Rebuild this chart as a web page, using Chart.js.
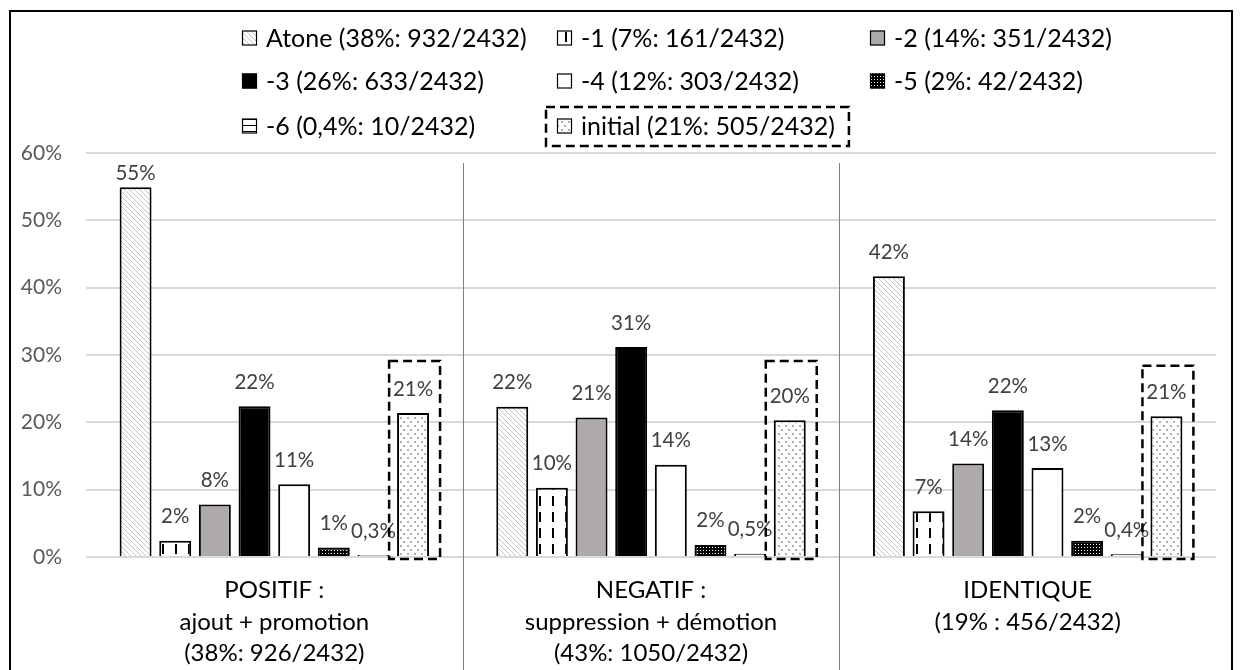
<!DOCTYPE html>
<html><head><meta charset="utf-8">
<script src="https://cdn.jsdelivr.net/npm/chart.js@4.4.1/dist/chart.umd.min.js"></script>
<style>html,body{margin:0;padding:0;background:#fff;}#wrap{position:relative;width:1242px;height:670px;}</style>
</head><body><div id="wrap"><canvas id="c" width="1242" height="670"></canvas></div>
<script>
// ---- data ----
const categories = [
  ["POSITIF :", "ajout + promotion", "(38%: 926/2432)"],
  ["NEGATIF :", "suppression + démotion", "(43%: 1050/2432)"],
  ["IDENTIQUE", "(19% : 456/2432)"]
];
const seriesNames = [
  "Atone (38%: 932/2432)", "-1 (7%: 161/2432)", "-2 (14%: 351/2432)",
  "-3 (26%: 633/2432)", "-4 (12%: 303/2432)", "-5 (2%: 42/2432)",
  "-6 (0,4%: 10/2432)", "initial (21%: 505/2432)"
];
const atone   = [54.9, 22.3, 41.7];
const minus1  = [2.4, 10.3, 6.8];
const minus2  = [7.8, 20.7, 13.9];
const minus3  = [22.4, 31.2, 21.8];
const minus4  = [10.8, 13.7, 13.2];
const minus5  = [1.4, 1.8, 2.4];
const minus6  = [0.3, 0.5, 0.4];
const initial = [21.4, 20.3, 20.9];
const initialFrameTop = [29.1, 29.1, 28.4];
const yTicks = [0, 10, 20, 30, 40, 50, 60];

// ---- patterns ----
function tile(w, h, draw) {
  const c = document.createElement('canvas'); c.width = w; c.height = h;
  const g = c.getContext('2d'); draw(g, w, h);
  return document.getElementById('c').getContext('2d').createPattern(c, 'repeat');
}
const pAtone = tile(5, 5, (g, w, h) => { g.fillStyle = '#fff'; g.fillRect(0,0,w,h); g.fillStyle = '#c4c4c4'; for (let i=0;i<5;i++) g.fillRect(i,i,1,1); });
const pMinus1 = tile(13, 16, (g, w, h) => { g.fillStyle = '#fff'; g.fillRect(0,0,w,h); g.fillStyle = '#000'; g.fillRect(6,0,2,10); });
const pMinus5 = tile(3, 3, (g, w, h) => { g.fillStyle = '#000'; g.fillRect(0,0,w,h); g.fillStyle = '#fff'; g.fillRect(1,1,1,1); });
const pMinus6 = tile(6, 6, (g, w, h) => { g.fillStyle = '#fff'; g.fillRect(0,0,w,h); g.fillStyle = '#000'; g.fillRect(0,5,w,1); });
const pInitial = tile(7, 8, (g, w, h) => { g.fillStyle = '#fff'; g.fillRect(0,0,w,h); g.fillStyle = '#b0b0b0'; g.fillRect(1,1,2,2); g.fillRect(4,5,2,2); });

const seriesValues = [atone, minus1, minus2, minus3, minus4, minus5, minus6, initial];
const fills = [pAtone, pMinus1, '#aeaaaa', '#000000', '#ffffff', pMinus5, pMinus6, pInitial];

const FONT = 'Lato, "Open Sans", sans-serif';

function fmt(v) {
  if (v < 1) return v.toFixed(1).replace('.', ',') + '%';
  return Math.round(v) + '%';
}

const decorPlugin = {
  id: 'decor',
  beforeDraw(chart) {
    const ctx = chart.ctx;
    ctx.save();
    ctx.fillStyle = '#fff'; ctx.fillRect(0, 0, chart.width, chart.height);
    ctx.restore();
  },
  afterDraw(chart) {
    const ctx = chart.ctx, ca = chart.chartArea, x = chart.scales.x, y = chart.scales.y;
    ctx.save();
    // outer border
    ctx.strokeStyle = '#000'; ctx.lineWidth = 2;
    ctx.strokeRect(10, 11, 1222, 700);
    // separators
    ctx.strokeStyle = '#808080'; ctx.lineWidth = 1;
    for (let i = 0; i < categories.length - 1; i++) {
      const px = Math.round(x.getPixelForValue(i + 0.5)) + 0.5;
      ctx.beginPath(); ctx.moveTo(px, ca.top + 10); ctx.lineTo(px, chart.height); ctx.stroke();
    }
    // data labels
    ctx.font = '20.5px ' + FONT; ctx.fillStyle = '#404040';
    ctx.textAlign = 'center'; ctx.textBaseline = 'middle';
    chart.data.datasets.forEach((ds, di) => {
      const meta = chart.getDatasetMeta(di);
      meta.data.forEach((bar, i) => {
        const ly = Math.max(bar.y - 24, ca.top + 20);
        ctx.fillText(fmt(ds.data[i]), bar.x, ly);
      });
    });
    // dashed frames around "initial" bars
    ctx.strokeStyle = '#000'; ctx.lineWidth = 2.5; ctx.setLineDash([9, 5]);
    const im = chart.getDatasetMeta(7);
    im.data.forEach((bar, i) => {
      const l = bar.x - bar.width / 2 - 8, r = bar.x + bar.width / 2 + 11;
      const t = y.getPixelForValue(initialFrameTop[i]), b = y.getPixelForValue(0) + 2;
      ctx.strokeRect(l, t, r - l, b - t);
    });
    ctx.setLineDash([]);
    // legend
    const colX = [242, 557, 870], rowY = [38, 81, 126];
    ctx.font = '25px ' + FONT; ctx.textAlign = 'left'; ctx.textBaseline = 'middle';
    chart.data.datasets.forEach((ds, di) => {
      const cx = colX[di % 3], cy = rowY[Math.floor(di / 3)];
      ctx.fillStyle = ds.backgroundColor; ctx.fillRect(cx, cy - 7.5, 15, 15);
      ctx.strokeStyle = '#000'; ctx.lineWidth = 1.2; ctx.strokeRect(cx + 0.5, cy - 7, 14, 14);
      ctx.fillStyle = '#000'; ctx.fillText(ds.label, cx + 24, cy + 1);
      if (di === 7) {
        const tw = ctx.measureText(ds.label).width;
        ctx.lineWidth = 2.5; ctx.setLineDash([9, 5]);
        ctx.strokeRect(cx - 11, cy - 19, (cx + 24 + tw + 14) - (cx - 11), 39);
        ctx.setLineDash([]);
      }
    });
    ctx.restore();
  }
};

new Chart(document.getElementById('c'), {
  type: 'bar',
  data: {
    labels: categories,
    datasets: seriesNames.map((n, i) => ({
      label: n, data: seriesValues[i], backgroundColor: fills[i],
      borderColor: '#000', borderWidth: 2,
      categoryPercentage: 0.842, barPercentage: 0.806
    }))
  },
  options: {
    responsive: false, animation: false, devicePixelRatio: 1,
    layout: { padding: { left: 0, right: 26, top: 153, bottom: 0 } },
    plugins: { legend: { display: false }, tooltip: { enabled: false } },
    scales: {
      x: {
        grid: { display: false }, border: { display: false },
        ticks: { color: '#000', font: { family: FONT, size: 24, lineHeight: 1.3 }, padding: 10, maxRotation: 0, autoSkip: false },
        afterFit(s) { s.height = 113; }
      },
      y: {
        min: 0, max: 60,
        afterBuildTicks(s) { s.ticks = yTicks.map(v => ({ value: v })); },
        grid: { color: '#d9d9d9', lineWidth: 2, drawTicks: false },
        border: { display: false },
        ticks: { color: '#595959', font: { family: FONT, size: 21 }, padding: 24, callback: v => v + '%' },
        afterFit(s) { s.width = 86; }
      }
    }
  },
  plugins: [decorPlugin]
});
</script></body></html>
